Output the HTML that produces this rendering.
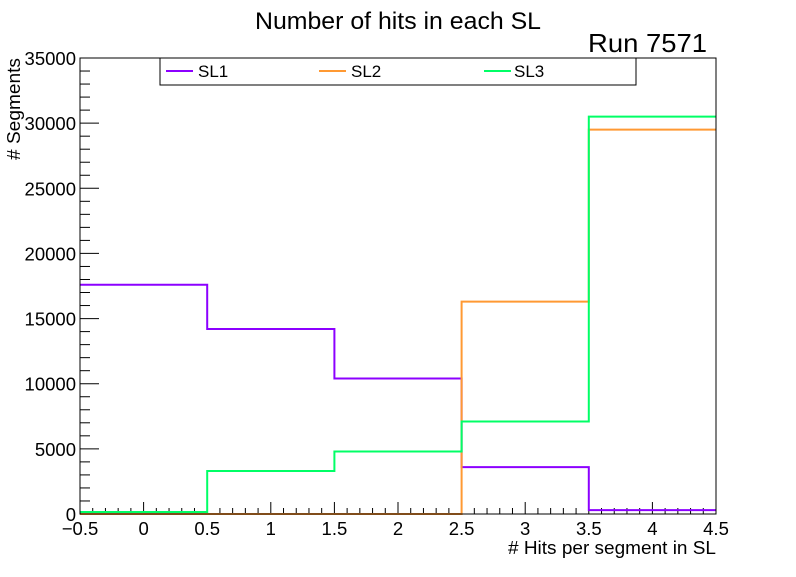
<!DOCTYPE html>
<html><head><meta charset="utf-8"><style>
html,body{margin:0;padding:0;background:#fff;}
svg text{font-family:"Liberation Sans",Arial,sans-serif;}
</style></head><body>
<svg id="c" width="796" height="572" xmlns="http://www.w3.org/2000/svg">
<rect width="796" height="572" fill="#fff"/>
<text x="398" y="29" font-size="24" text-anchor="middle" textLength="286" lengthAdjust="spacingAndGlyphs">Number of hits in each SL</text>
<text x="707" y="52" font-size="26" text-anchor="end" textLength="119" lengthAdjust="spacingAndGlyphs">Run 7571</text>
<g id="axes"></g>
<g id="series"></g>
<rect x="80" y="58" width="636" height="456" fill="none" stroke="#000" stroke-width="1"/>
<g>
<rect x="160" y="58" width="476" height="27" fill="#fff" stroke="#000"/>
<line x1="166" y1="71" x2="193" y2="71" stroke="#8c00ff" stroke-width="2"/>
<text x="198" y="77" font-size="17">SL1</text>
<line x1="319" y1="71" x2="346" y2="71" stroke="#ff9933" stroke-width="2"/>
<text x="351" y="77" font-size="17">SL2</text>
<line x1="484" y1="71" x2="511" y2="71" stroke="#00ff66" stroke-width="2"/>
<text x="514" y="77" font-size="17">SL3</text>
</g>
<text x="716" y="554" font-size="18" text-anchor="end" textLength="208" lengthAdjust="spacingAndGlyphs"># Hits per segment in SL</text>
<text transform="translate(20,58) rotate(-90)" font-size="18" text-anchor="end" textLength="102" lengthAdjust="spacingAndGlyphs"># Segments</text>
</svg>
<script>
const categories=[0,1,2,3,4];
const sl1=[17600,14200,10400,3600,300];
const sl2=[0,0,0,16300,29500];
const sl3=[150,3300,4800,7100,30500];
const xTicks=["-0.5","0","0.5","1","1.5","2","2.5","3","3.5","4","4.5"];
const yTicks=["0","5000","10000","15000","20000","25000","30000","35000"];
const NS="http://www.w3.org/2000/svg";
const X0=80,X1=716,Y0=514,Y1=58,xmin=-0.5,xmax=4.5,ymax=35000;
const xs=v=>X0+(v-xmin)/(xmax-xmin)*(X1-X0);
const ys=v=>Y0-v/ymax*(Y0-Y1);
function mk(t,a,p){const e=document.createElementNS(NS,t);for(const k in a)e.setAttribute(k,a[k]);p.appendChild(e);return e;}
const ax=document.getElementById('axes');
for(let i=0;i<=50;i++){const v=xmin+i*0.1;const major=i%5===0;
 const l=mk('line',{x1:xs(v),x2:xs(v),y1:Y0,y2:Y0-(major?12:6),stroke:'#000'},ax);
 
 }
xTicks.forEach(s=>{const t=mk('text',{x:xs(parseFloat(s)),y:Y0+21,'font-size':18.5,'text-anchor':'middle'},ax);t.textContent=s.replace('-','\u2212');
 
 });
for(let i=0;i<=35;i++){const v=i*1000;const major=i%5===0;
 const l=mk('line',{x1:X0,x2:X0+(major?19:10),y1:ys(v),y2:ys(v),stroke:'#000'},ax);
 
 }
yTicks.forEach(s=>{const t=mk('text',{x:X0-4,y:ys(parseFloat(s))+7,'font-size':18.5,'text-anchor':'end'},ax);t.textContent=s;
 
 });
const sg=document.getElementById('series');
function hist(vals,color,name){let d='';categories.forEach((c,i)=>{const a=xs(c-0.5),b=xs(c+0.5),y=ys(vals[i]);d+=(i===0?'M'+a+','+y:'L'+a+','+y)+'L'+b+','+y;});
 const p=mk('path',{d:d,fill:'none',stroke:color,'stroke-width':2},sg);
 
 }
hist(sl1,'#8c00ff','series-sl1');
hist(sl2,'#ff9933','series-sl2');
hist(sl3,'#00ff66','series-sl3');
</script>
</body></html>
